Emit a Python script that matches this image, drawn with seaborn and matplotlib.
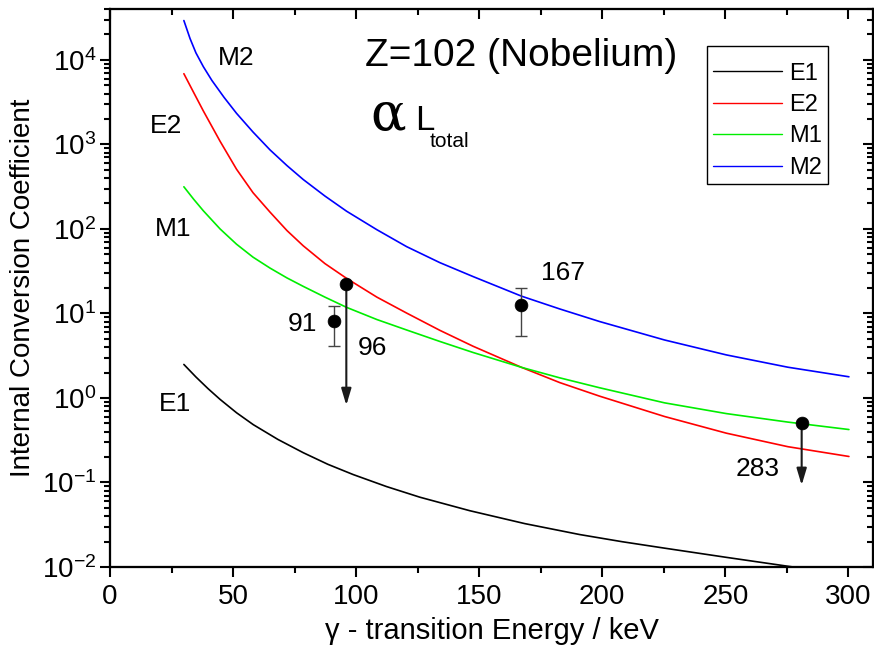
import numpy as np
import pandas as pd
import matplotlib
matplotlib.use("Agg")
import matplotlib.pyplot as plt
from matplotlib.patches import Rectangle
import seaborn as sns
from matplotlib.ticker import MultipleLocator, LogLocator, NullFormatter

# ---------------- data ----------------
E1_x = [30.0, 34.9, 39.8, 44.7, 51.4, 58.2, 68.2, 78.5, 88.5, 98.8, 112.3, 125.9, 146.2,
        168.5, 190.8, 208.1, 225.3, 250.4, 275.4, 300.2]
E1_y = [2.49, 1.77, 1.29, 0.962, 0.668, 0.483, 0.323, 0.225, 0.164, 0.124, 0.0895, 0.0669,
        0.0463, 0.0326, 0.0242, 0.0199, 0.0167, 0.0130, 0.0102, 0.0081]
E2_x = [30.0, 34.0, 37.9, 44.7, 51.4, 58.1, 65.0, 71.9, 78.5, 87.3, 96.1, 108.4, 120.5,
        134.0, 147.5, 167.2, 182.7, 198.9, 225.3, 250.4, 275.4, 300.2]
E2_y = [6860, 4100, 2490, 1090, 508, 268, 158, 95.5, 63.1, 38.9, 26.0, 15.6, 10.1,
        6.31, 4.09, 2.30, 1.52, 1.05, 0.603, 0.383, 0.265, 0.203]
M1_x = [30.0, 34.0, 37.9, 44.7, 51.4, 58.1, 65.0, 71.9, 78.5, 87.3, 96.1, 108.4, 120.5,
        134.0, 147.5, 167.2, 182.7, 198.9, 225.3, 250.4, 275.4, 300.2]
M1_y = [315, 224, 164, 100, 65.9, 46.3, 34.4, 26.3, 20.9, 15.6, 11.8, 8.47, 6.37,
        4.66, 3.45, 2.30, 1.73, 1.32, 0.875, 0.653, 0.518, 0.423]
M2_x = [30.0, 32.5, 34.9, 37.9, 41.4, 46.3, 51.4, 58.1, 65.0, 71.9, 78.5, 87.3, 96.1,
        108.4, 120.5, 134.0, 147.5, 167.2, 182.7, 198.9, 225.3, 250.4, 275.4, 300.2]
M2_y = [29200, 17900, 12100, 8320, 5700, 3610, 2330, 1400, 861, 561, 384, 245, 162,
        97.9, 61.7, 39.9, 27.3, 16.0, 11.3, 8.02, 4.85, 3.23, 2.31, 1.78]
series_names = ["E1", "E2", "M1", "M2"]
series_colors = ["#000000", "#ff0000", "#00ee00", "#0000ff"]

# experimental points
err_x = [91, 167]
err_y = [8.2, 12.6]
err_lo = [4.1, 5.4]
err_hi = [12.2, 20.0]
lim_x = [96, 281]
lim_y = [22.3, 0.50]
lim_to = [0.82, 0.093]

# annotation labels
curve_labels = ["M2", "E2", "M1", "E1"]
curve_label_x = [51.4, 22.7, 25.6, 26.4]
curve_label_y = [10500, 1660, 100, 0.84]
point_labels = ["91", "96", "167", "283"]
point_label_x = [78, 106.8, 184, 263.3]
point_label_y = [7.5, 3.9, 30, 0.144]

# ---------------- style ----------------
sns.set_style("ticks")
plt.rcParams["font.family"] = ["Liberation Sans", "DejaVu Sans"]
plt.rcParams["mathtext.fontset"] = "custom"
plt.rcParams["mathtext.rm"] = "Liberation Sans"
plt.rcParams["mathtext.it"] = "Liberation Sans:italic"
for k in ["text.color", "axes.labelcolor", "xtick.color", "ytick.color", "axes.edgecolor"]:
    plt.rcParams[k] = "black"

fig = plt.figure(figsize=(8.74, 6.52), dpi=100)
ax = fig.add_axes([0.1259, 0.1304, 0.873, 0.8558])

frames = []
for name, xs, ys in zip(series_names, [E1_x, E2_x, M1_x, M2_x], [E1_y, E2_y, M1_y, M2_y]):
    frames.append(pd.DataFrame({"energy": xs, "alpha": ys, "type": name}))
df = pd.concat(frames, ignore_index=True)
sns.lineplot(data=df, x="energy", y="alpha", hue="type", hue_order=series_names,
             palette=dict(zip(series_names, series_colors)), linewidth=1.2, ax=ax,
             estimator=None, sort=True)
ax.set_yscale("log")
ax.set_xlim(0, 310)
ax.set_ylim(0.01, 4.0e4)

# error bars and points
lo = np.array(err_y) - np.array(err_lo)
hi = np.array(err_hi) - np.array(err_y)
ax.errorbar(err_x, err_y, yerr=[lo, hi], fmt="none", ecolor="#444444",
            elinewidth=1.0, capsize=4, capthick=1.0, zorder=4)
for x0, y0, y1 in zip(lim_x, lim_y, lim_to):
    ax.annotate("", xy=(x0, y1), xytext=(x0, y0),
                arrowprops=dict(arrowstyle="-|>,head_length=1.0,head_width=0.3",
                                color="#1a1a1a", lw=1.5, shrinkA=0, shrinkB=0,
                                mutation_scale=10), zorder=4)
sns.scatterplot(x=err_x + lim_x, y=err_y + lim_y, color="black", s=85,
                edgecolor="black", linewidth=0.5, ax=ax, zorder=5, legend=False)

for t, x0, y0 in zip(curve_labels, curve_label_x, curve_label_y):
    ax.text(x0, y0, t, fontsize=19, ha="center", va="center")
for t, x0, y0 in zip(point_labels, point_label_x, point_label_y):
    ax.text(x0, y0, t, fontsize=19, ha="center", va="center")

ax.text(0.539, 0.916, "Z=102 (Nobelium)", transform=ax.transAxes, fontsize=28,
        ha="center", va="center")
ax.text(0.341, 0.783, "α", transform=ax.transAxes, fontsize=38,
        family=["DejaVu Serif"], ha="left", va="baseline")
ax.text(0.400, 0.783, "L", transform=ax.transAxes, fontsize=25, ha="left", va="baseline")
ax.text(0.419, 0.753, "total", transform=ax.transAxes, fontsize=15, ha="left", va="baseline")

# axes labels
ax.set_xlabel("γ - transition Energy / keV", fontsize=21, labelpad=5)
ax.set_ylabel("Internal Conversion Coefficient", fontsize=20, labelpad=4)

# ticks
ax.xaxis.set_major_locator(MultipleLocator(50))
ax.xaxis.set_minor_locator(MultipleLocator(25))
ax.yaxis.set_major_locator(LogLocator(base=10, numticks=20))
ax.yaxis.set_minor_locator(LogLocator(base=10, subs=np.arange(2, 10), numticks=20))
ax.yaxis.set_minor_formatter(NullFormatter())
ax.tick_params(axis="both", which="major", direction="out", length=7, width=1.5,
               labelsize=20, pad=3)
ax.tick_params(axis="both", which="minor", direction="out", length=4, width=1.5)
ax.tick_params(axis="x", which="major", pad=5)
for s in ax.spines.values():
    s.set_linewidth(1.5)
    s.set_visible(True)

axr = ax.twinx()
axr.set_yscale("log")
axr.set_ylim(ax.get_ylim())
axr.yaxis.set_major_locator(LogLocator(base=10, numticks=20))
axr.yaxis.set_minor_locator(LogLocator(base=10, subs=np.arange(2, 10), numticks=20))
axr.tick_params(axis="y", which="major", direction="in", length=7, width=1.5, labelright=False)
axr.tick_params(axis="y", which="minor", direction="in", length=4, width=1.5, labelright=False)
axr.yaxis.label.set_visible(False)
axt = ax.twiny()
axt.set_xlim(ax.get_xlim())
axt.xaxis.set_major_locator(MultipleLocator(50))
axt.xaxis.set_minor_locator(MultipleLocator(25))
axt.tick_params(axis="x", which="major", direction="in", length=7, width=1.5, labeltop=False)
axt.tick_params(axis="x", which="minor", direction="in", length=4, width=1.5, labeltop=False)
axt.xaxis.label.set_visible(False)
for a in (axr, axt):
    for s in a.spines.values():
        s.set_linewidth(1.5)

# legend: frameless legend inside a drawn box
ax.add_patch(Rectangle((0.7824, 0.6864), 0.9410 - 0.7824, 0.9337 - 0.6864,
                       transform=ax.transAxes, facecolor="white", edgecolor="black",
                       linewidth=1.0, zorder=6, clip_on=False))
handles, labels = ax.get_legend_handles_labels()
leg = ax.legend(handles, labels, loc="upper left", bbox_to_anchor=(0.790, 0.904),
                fontsize=17, frameon=False, handlelength=2.92, handletextpad=0.3,
                labelspacing=0.40, borderpad=0.0, borderaxespad=0)
leg.set_zorder(7)
for l in leg.get_lines():
    l.set_linewidth(1.0)

fig.savefig("out.png", dpi=100)
